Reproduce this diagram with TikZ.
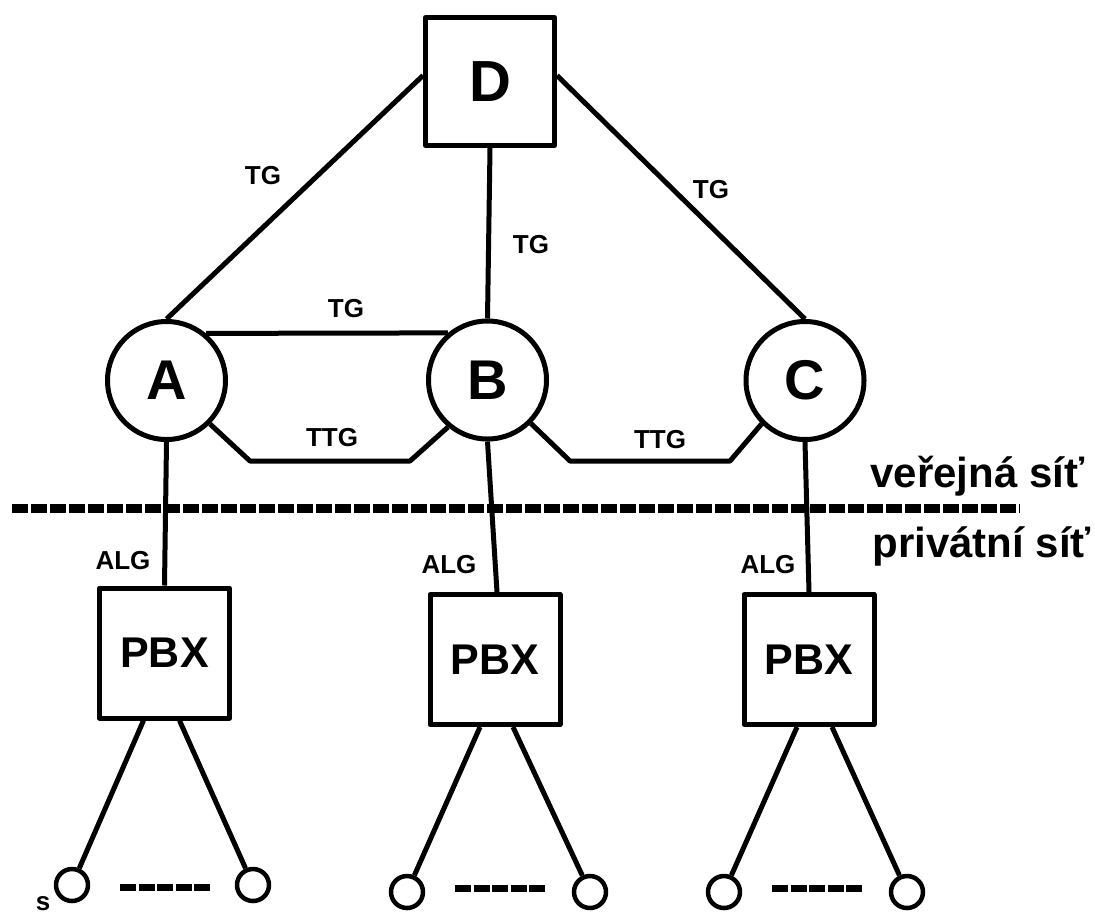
\documentclass[tikz,border=0pt]{standalone}
\usepackage{fontspec}
\setmainfont{Liberation Sans}
\begin{document}
\begin{tikzpicture}[x=1pt,y=-1pt,
  line width=5pt, line join=round,
  exch/.style={draw, circle, minimum size=118pt, inner sep=0pt,
    font=\fontsize{56}{60}\selectfont\bfseries},
  topbox/.style={draw, rectangle, minimum width=129pt, minimum height=128pt,
    inner sep=0pt, font=\fontsize{58}{62}\selectfont\bfseries},
  pbxbox/.style={draw, rectangle, minimum width=130pt, minimum height=130pt,
    inner sep=0pt, font=\fontsize{43}{46}\selectfont\bfseries},
  term/.style={draw, circle, minimum size=32pt, inner sep=0pt, line width=4.5pt},
  lbl/.style={font=\fontsize{26}{28}\selectfont\bfseries, inner sep=0pt},
  zone/.style={font=\fontsize{42}{46}\selectfont\bfseries, inner sep=0pt, anchor=base west},
  border/.style={line width=9pt, dash pattern=on 16pt off 3pt},
  more/.style={line width=7pt, dash pattern=on 16pt off 2.5pt}]
\useasboundingbox (0,0) rectangle (1095,914);

% boundary between public and private network
\draw[border] (12,508) -- (1020,508);
\node[zone] (pub) at (868,487) {veřejná síť};
\node[zone] (priv) at (870,557) {privátní síť};

% transit exchange and local exchanges
\node[topbox] (D) at (490,81.5) {D};
\node[exch] (A) at (166.5,380.5) {A};
\node[exch] (B) at (487.5,380) {B};
\node[exch] (C) at (805,380.5) {C};

\draw ([yshift=6pt]D.west) -- (A.north);
\draw ([yshift=6pt]D.east) -- (C.north);
\draw (D.south) -- (B.north);
\draw (A.50) -- (B.130);
\coordinate (t1) at (250,461);
\coordinate (t2) at (410,461);
\coordinate (t3) at (570,461);
\coordinate (t4) at (730,461);
\draw (A.-45) -- (t1) -- (t2) -- (B.-130);
\draw (B.-45) -- (t3) -- (t4) -- (C.-135);

\node[lbl] (l1) at (263,176) {TG};
\node[lbl] (l2) at (531,245) {TG};
\node[lbl] (l3) at (711,190) {TG};
\node[lbl] (l4) at (346,309) {TG};
\node[lbl] (l5) at (332,438) {TTG};
\node[lbl] (l6) at (660,440) {TTG};

% private branch exchanges
\node[pbxbox] (P1) at (164.5,653) {PBX};
\node[pbxbox] (P2) at (495,659.5) {PBX};
\node[pbxbox] (P3) at (809,659.5) {PBX};

\draw (A.south) -- (P1.north);
\draw (B.south) -- ([xshift=2pt]P2.north);
\draw (C.south) -- (P3.north);

\node[lbl] (g1) at (123,561) {ALG};
\node[lbl] (g2) at (449,565) {ALG};
\node[lbl] (g3) at (768,565) {ALG};

% subscriber terminals
\node[term] (s11) at (72,885) {};
\node[term] (s12) at (253,885) {};
\node[term] (s21) at (407,892) {};
\node[term] (s22) at (590,892) {};
\node[term] (s31) at (724,892) {};
\node[term] (s32) at (907,892) {};

\draw ([xshift=-21pt]P1.south) -- (s11);
\draw ([xshift=15pt]P1.south) -- (s12);
\draw ([xshift=-15pt]P2.south) -- (s21);
\draw ([xshift=18pt]P2.south) -- (s22);
\draw ([xshift=-12pt]P3.south) -- (s31);
\draw ([xshift=23pt]P3.south) -- (s32);

\draw[more] (120,887) -- (210,887);
\draw[more] (455,888) -- (545,888);
\draw[more] (772,888) -- (862,888);

\node[lbl, anchor=base] (sl) at (43,910) {s};
\end{tikzpicture}
\end{document}
